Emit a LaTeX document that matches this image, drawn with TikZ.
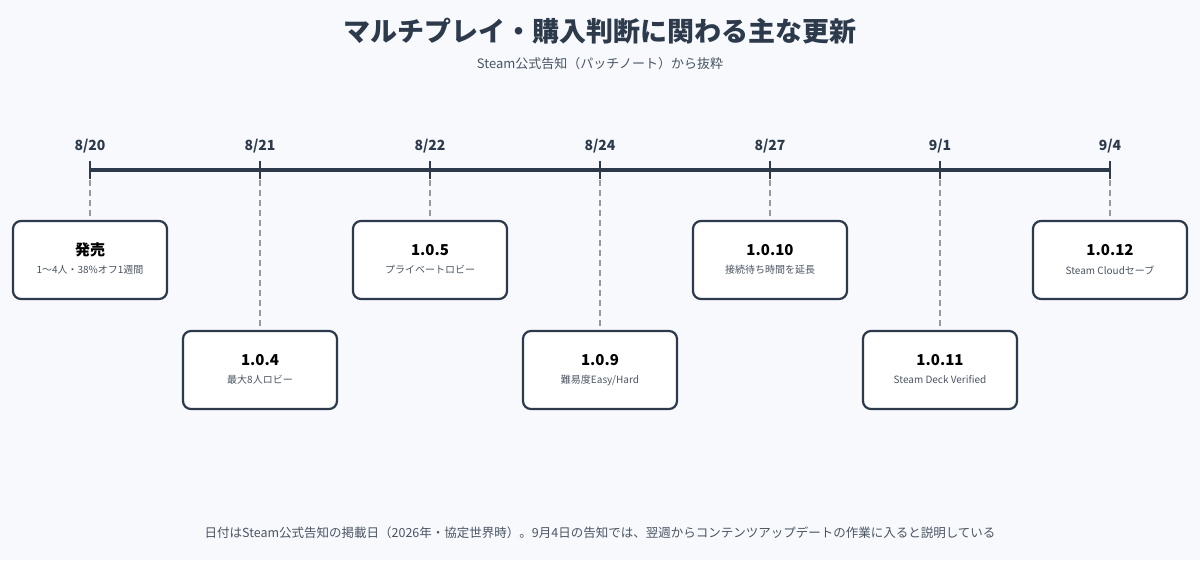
\documentclass[tikz,border=0pt]{standalone}
\usepackage{fontspec}
\setmainfont{Noto Sans CJK JP}
\usepackage{tikz}
\usetikzlibrary{positioning,calc}
\definecolor{ink}{HTML}{2C3A4B}
\definecolor{bgc}{HTML}{F7F9FC}
\definecolor{subc}{HTML}{4A5563}
\begin{document}
\begin{tikzpicture}[
      x=1pt,y=-1pt,
      card/.style={draw=ink,line width=2.2,rounded corners=8,fill=white,minimum width=154,minimum height=78,inner sep=0,align=center},
      tick/.style={draw=ink,line width=2.5},
      guide/.style={draw=gray!80,line width=1.2,dash pattern=on 6pt off 4pt},
      date/.style={font=\bfseries\fontsize{14}{16}\selectfont,text=ink}
    ]
    \fill[bgc] (0,0) rectangle (1200,560);
    \useasboundingbox (0,0) rectangle (1200,560);
    \node[font=\bfseries\fontsize{27}{30}\selectfont,text=ink] (title) at (600,31) {マルチプレイ・購入判断に関わる主な更新};
    \node[font=\fontsize{13}{15}\selectfont,text=subc] (sub) at (600,64) {Steam公式告知（パッチノート）から抜粋};
    \coordinate (start) at (90,170);
    \coordinate (end) at (1110,170);
    \draw[ink,line width=4] (start) -- (end);
    % milestones: x / date / row / head / note
    \foreach \x/\d/\r/\h/\n [count=\i] in {
        90/8\slash 20/260/発売/1〜4人・38\%オフ1週間,
        260/8\slash 21/370/1.0.4/最大8人ロビー,
        430/8\slash 22/260/1.0.5/プライベートロビー,
        600/8\slash 24/370/1.0.9/難易度Easy\slash Hard,
        770/8\slash 27/260/1.0.10/接続待ち時間を延長,
        940/9\slash 1/370/1.0.11/Steam Deck Verified,
        1110/9\slash 4/260/1.0.12/Steam Cloudセーブ}{
      \coordinate (t\i) at (\x,170);
      \draw[tick] ($(t\i)+(0,-9)$) -- ($(t\i)+(0,9)$);
      \node[date] (d\i) at (\x,146) {\d};
      \node[card] (c\i) at (\x,\r) {};
      \node[font=\bfseries\fontsize{15}{17}\selectfont,text=black] (h\i) at (\x,\r-10) {\h};
      \node[font=\fontsize{10}{12}\selectfont,text=subc] (n\i) at (\x,\r+10) {\n};
      \draw[guide] ($(t\i)+(0,10)$) -- (c\i.north);
    }
    \node[font=\fontsize{12.5}{15}\selectfont,text=subc] (foot) at (600,533) {日付はSteam公式告知の掲載日（2026年・協定世界時）。9月4日の告知では、翌週からコンテンツアップデートの作業に入ると説明している};
\end{tikzpicture}
\end{document}
